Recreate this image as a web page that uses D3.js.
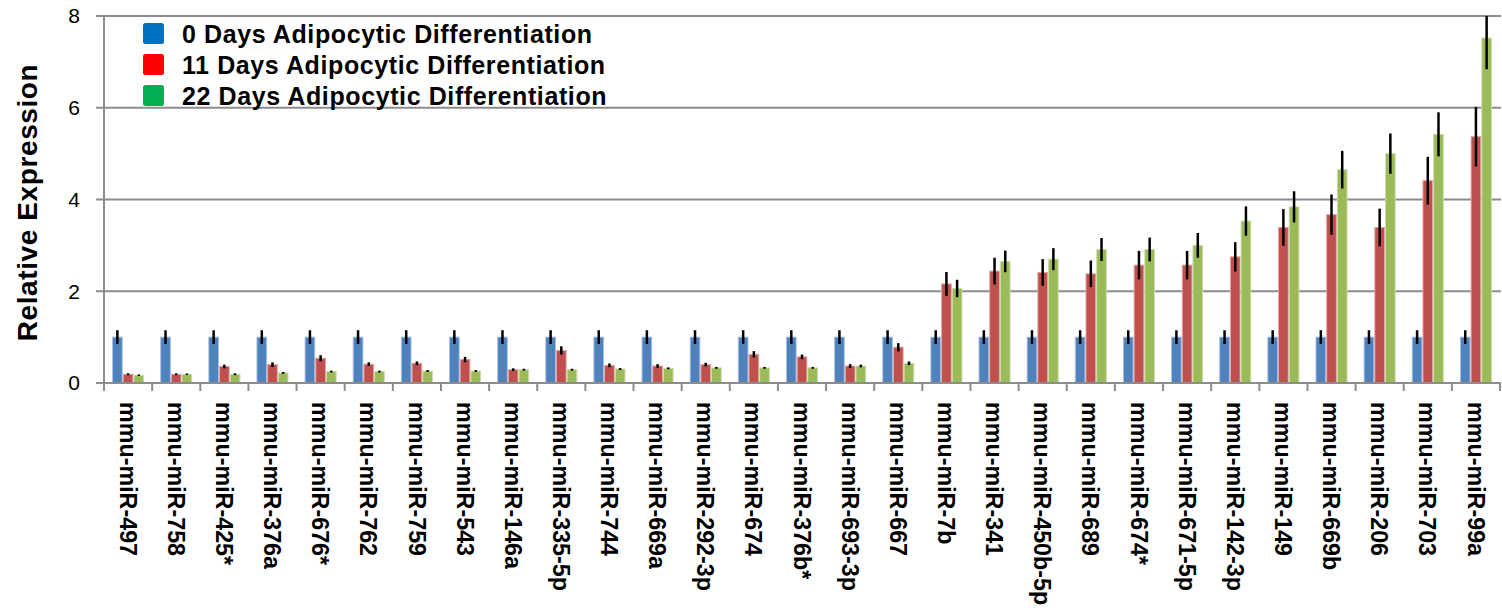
<!DOCTYPE html>
<html><head><meta charset="utf-8">
<script src="https://cdn.jsdelivr.net/npm/d3@7"></script>
<style>body{margin:0;background:#fff}svg{display:block}</style>
</head><body>
<script>
const categories = ["mmu-miR-497","mmu-miR-758","mmu-miR-425*","mmu-miR-376a","mmu-miR-676*","mmu-miR-762","mmu-miR-759","mmu-miR-543","mmu-miR-146a","mmu-miR-335-5p","mmu-miR-744","mmu-miR-669a","mmu-miR-292-3p","mmu-miR-674","mmu-miR-376b*","mmu-miR-693-3p","mmu-miR-667","mmu-miR-7b","mmu-miR-341","mmu-miR-450b-5p","mmu-miR-689","mmu-miR-674*","mmu-miR-671-5p","mmu-miR-142-3p","mmu-miR-149","mmu-miR-669b","mmu-miR-206","mmu-miR-703","mmu-miR-99a"];
const seriesNames = ["0 Days Adipocytic Differentiation","11 Days Adipocytic Differentiation","22 Days Adipocytic Differentiation"];
const day0 = [1,1,1,1,1,1,1,1,1,1,1,1,1,1,1,1,1,1,1,1,1,1,1,1,1,1,1,1,1];
const day0Err = [0.15,0.15,0.15,0.15,0.15,0.15,0.15,0.15,0.15,0.15,0.15,0.15,0.15,0.15,0.15,0.15,0.15,0.15,0.15,0.15,0.15,0.15,0.15,0.15,0.15,0.15,0.15,0.15,0.15];
const day11 = [0.19,0.19,0.36,0.40,0.54,0.41,0.43,0.51,0.29,0.71,0.385,0.37,0.40,0.625,0.57,0.37,0.78,2.16,2.44,2.41,2.38,2.57,2.57,2.75,3.39,3.67,3.39,4.41,5.37];
const day11Err = [0.02,0.02,0.04,0.05,0.065,0.04,0.04,0.06,0.03,0.09,0.04,0.04,0.04,0.07,0.05,0.04,0.09,0.26,0.29,0.29,0.29,0.31,0.31,0.32,0.40,0.44,0.41,0.52,0.65];
const day22 = [0.17,0.19,0.19,0.22,0.25,0.25,0.26,0.26,0.29,0.29,0.305,0.32,0.33,0.33,0.33,0.37,0.43,2.06,2.65,2.70,2.91,2.91,3.0,3.53,3.84,4.65,5.0,5.42,7.52];
const day22Err = [0.015,0.015,0.02,0.02,0.02,0.02,0.02,0.02,0.02,0.02,0.02,0.02,0.02,0.02,0.02,0.03,0.04,0.19,0.235,0.24,0.25,0.26,0.27,0.32,0.34,0.41,0.44,0.48,0.68];
const yTicks = [0,2,4,6,8];

const barColors = ["#4F81BD","#C0504D","#9BBB59"];
const barStrokes = ["#A9C1DF","#E0A8A6","#CDDDAC"];
const legendColors = ["#0070C0","#FF0000","#00B050"];
const values = [day0, day11, day22];
const errs = [day0Err, day11Err, day22Err];

const W = 1502, H = 611;
const pL = 104, pR = 1500, pT = 16, pB = 383;
const svg = d3.select("body").append("svg").attr("width", W).attr("height", H);

const x = d3.scaleBand().domain(categories).range([pL, pR]).paddingInner(1/3).paddingOuter(1/6);
const xs = d3.scaleBand().domain([0,1,2]).range([0, x.bandwidth()]);
const y = d3.scaleLinear().domain([0,8]).range([pB, pT]);

svg.append("defs").append("clipPath").attr("id","plotclip")
  .append("rect").attr("x", pL).attr("y", pT).attr("width", pR-pL+2).attr("height", pB-pT);

// gridlines
svg.append("g").selectAll("line").data(yTicks.filter(d=>d>0)).join("line")
  .attr("x1", pL).attr("x2", pR+1).attr("y1", d=>y(d)).attr("y2", d=>y(d))
  .attr("stroke","#8C8C8C").attr("stroke-width",2);

// y axis ticks & labels
const ya = svg.append("g");
ya.selectAll("line").data(yTicks).join("line")
  .attr("x1", pL-8).attr("x2", pL).attr("y1", d=>y(d)).attr("y2", d=>y(d))
  .attr("stroke","#8C8C8C").attr("stroke-width",2);
ya.selectAll("text").data(yTicks).join("text")
  .attr("x", 80).attr("y", d=>y(d)).attr("dy","0.35em").attr("text-anchor","end")
  .attr("font-family","Liberation Sans, Arial, sans-serif").attr("font-size",21).attr("fill","#000")
  .text(d=>d);
ya.append("line").attr("x1", pL).attr("x2", pL).attr("y1", pT).attr("y2", pB+8)
  .attr("stroke","#8C8C8C").attr("stroke-width",2);

// bars
const gBars = svg.append("g").attr("clip-path","url(#plotclip)");
values.forEach((vals, s) => {
  gBars.append("g").selectAll("rect").data(categories).join("rect")
    .attr("x", (c)=>x(c)+xs(s)+0.5)
    .attr("width", xs.bandwidth()-1)
    .attr("y", (c,i)=>y(vals[i]))
    .attr("height", (c,i)=>y(0)-y(vals[i]))
    .attr("fill", barColors[s]).attr("stroke", barStrokes[s]).attr("stroke-width",1);
});
// error bars
values.forEach((vals, s) => {
  gBars.append("g").selectAll("line").data(categories).join("line")
    .attr("x1", c=>x(c)+xs(s)+xs.bandwidth()/2)
    .attr("x2", c=>x(c)+xs(s)+xs.bandwidth()/2)
    .attr("y1", (c,i)=>y(vals[i]+errs[s][i]))
    .attr("y2", (c,i)=>y(vals[i]-errs[s][i]))
    .attr("stroke","#000").attr("stroke-width",2.5);
});

// x axis
const step = x.step();
svg.append("line").attr("x1", pL-8).attr("x2", pR+1).attr("y1", pB).attr("y2", pB)
  .attr("stroke","#8C8C8C").attr("stroke-width",2);
const bounds = categories.map(c=>x(c) - step/6).concat([pR]);
svg.append("g").selectAll("line").data(bounds).join("line")
  .attr("x1", d=>d).attr("x2", d=>d).attr("y1", pB).attr("y2", pB+8)
  .attr("stroke","#8C8C8C").attr("stroke-width",2);
svg.append("g").selectAll("text").data(categories).join("text")
  .attr("transform", c=>`translate(${x(c)+x.bandwidth()/2},402) rotate(90)`)
  .attr("dy","0.36em")
  .attr("font-family","Liberation Sans, Arial, sans-serif").attr("font-weight","bold").attr("font-size",23.3)
  .attr("fill","#000").text(c=>c);

// y title
svg.append("text").attr("transform","translate(27,202.5) rotate(-90)")
  .attr("text-anchor","middle").attr("dy","0.36em")
  .attr("font-family","Liberation Sans, Arial, sans-serif").attr("font-weight","bold").attr("font-size",28)
  .attr("letter-spacing","0.6px")
  .attr("fill","#000").text("Relative Expression");

// legend
const lg = svg.append("g");
seriesNames.forEach((n,i)=>{
  const cy = 33.5 + i*31;
  lg.append("rect").attr("x",143).attr("y",cy-10.5).attr("width",21).attr("height",21).attr("rx",2.5)
    .attr("fill",legendColors[i]);
  lg.append("text").attr("x",182).attr("y",cy).attr("dy","0.36em")
    .attr("font-family","Liberation Sans, Arial, sans-serif").attr("font-weight","bold").attr("font-size",25)
    .attr("letter-spacing","0.6px")
    .attr("fill","#000").text(n);
});
</script>
</body></html>
